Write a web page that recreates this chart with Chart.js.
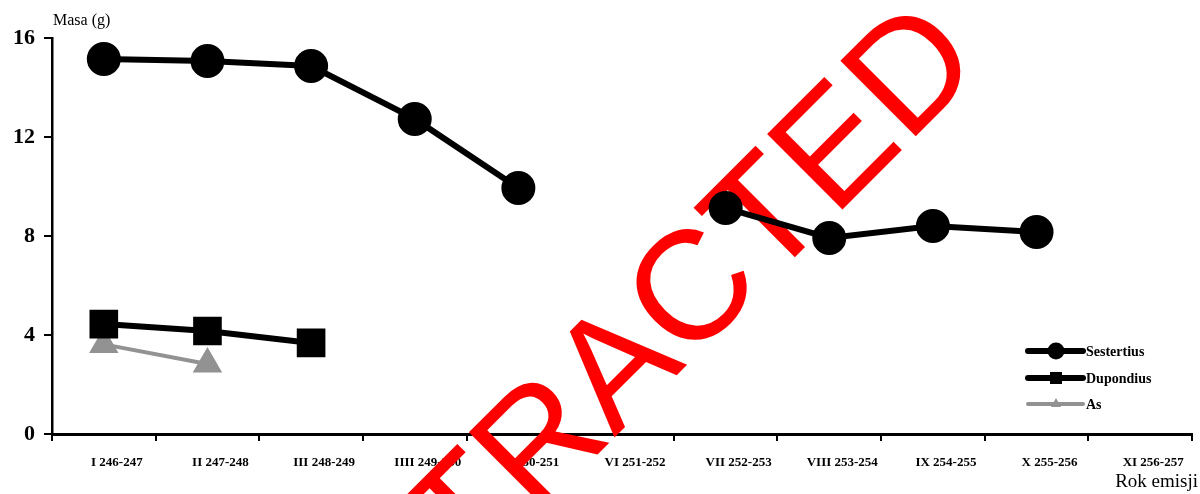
<!DOCTYPE html>
<html>
<head>
<meta charset="utf-8">
<script src="https://cdn.jsdelivr.net/npm/chart.js@4.4.1/dist/chart.umd.min.js"></script>
<style>
    html, body { margin: 0; padding: 0; background: #fff; }
    #chartContainer { width: 1200px; height: 494px; position: relative; }
</style>
</head>
<body>
<div id="chartContainer"><canvas id="Graph"></canvas></div>
<script>
// Emission periods (x axis)
const emissions = ['I 246-247', 'II 247-248', 'III 248-249', 'IIII 249-250', 'V 250-251', 'VI 251-252',
    'VII 252-253', 'VIII 253-254', 'IX 254-255', 'X 255-256', 'XI 256-257'];

// Mean coin mass (g)
const sestertius = [15.15, 15.07, 14.87, 12.73, 9.94, null, 9.13, 7.92, 8.40, 8.16, null];
const dupondius = [4.44, 4.16, 3.68, null, null, null, null, null, null, null, null];
const asCoin = [3.62, 2.83, null, null, null, null, null, null, null, null, null];

const yTicks = [0, 4, 8, 12, 16];

const serif = "'Liberation Serif', 'Times New Roman', serif";
const gray = '#929292';

// Draws the little legend box on the right, from the datasets themselves
const legendPlugin = {
    id: 'sideLegend',
    afterDatasetsDraw(chart) {
        const ctx = chart.ctx;
        const rows = [351, 378, 404];
        const x0 = 1028, x1 = 1083, xm = 1056;
        chart.data.datasets.forEach((ds, i) => {
            const y = rows[i];
            ctx.save();
            ctx.strokeStyle = ds.borderColor;
            ctx.lineWidth = ds.legendLine;
            ctx.lineCap = 'round';
            ctx.beginPath();
            ctx.moveTo(x0, y);
            ctx.lineTo(x1, y);
            ctx.stroke();
            ctx.fillStyle = ds.pointBackgroundColor;
            ctx.beginPath();
            if (ds.pointStyle === 'circle') {
                ctx.arc(xm, y, 8.5, 0, Math.PI * 2);
            } else if (ds.pointStyle === 'rect') {
                ctx.rect(xm - 6, y - 6, 12, 12);
            } else {
                ctx.moveTo(xm, y - 6);
                ctx.lineTo(xm + 5, y + 3);
                ctx.lineTo(xm - 5, y + 3);
                ctx.closePath();
            }
            ctx.fill();
            ctx.fillStyle = '#000';
            ctx.font = 'bold 14px ' + serif;
            ctx.textBaseline = 'middle';
            ctx.textAlign = 'left';
            ctx.fillText(ds.label, 1086, y + 1);
            ctx.restore();
        });
    }
};

// Axis captions placed like in the original figure
const captionPlugin = {
    id: 'captions',
    afterDraw(chart) {
        const ctx = chart.ctx;
        ctx.save();
        ctx.fillStyle = '#000';
        ctx.textBaseline = 'alphabetic';
        ctx.font = '16px ' + serif;
        ctx.textAlign = 'left';
        ctx.fillText('Masa (g)', 53, 25);
        ctx.font = '19px ' + serif;
        ctx.textAlign = 'right';
        ctx.fillText('Rok emisji', 1198, 487);
        ctx.restore();
    }
};

// Red stamp across the figure
const stampPlugin = {
    id: 'stamp',
    beforeDatasetsDraw(chart) {
        const ctx = chart.ctx;
        ctx.save();
        ctx.translate(316, 736);
        ctx.rotate(-Math.PI / 4);
        ctx.fillStyle = '#ff0000';
        ctx.font = "155px 'Liberation Sans', Arial, sans-serif";
        ctx.textAlign = 'left';
        ctx.textBaseline = 'alphabetic';
        ctx.fillText('RETRACTED', 0, 0);
        ctx.restore();
    }
};

const ctx = document.getElementById('Graph').getContext('2d');
const chartInstance = new Chart(ctx, {
    type: 'line',
    data: {
        labels: emissions,
        datasets: [
            {
                label: 'Sestertius',
                data: sestertius,
                borderColor: '#000',
                backgroundColor: '#000',
                pointBackgroundColor: '#000',
                pointBorderColor: '#000',
                pointStyle: 'circle',
                pointRadius: 14,
                borderWidth: 6,
                legendLine: 6,
                spanGaps: false,
                tension: 0
            },
            {
                label: 'Dupondius',
                data: dupondius,
                borderColor: '#000',
                backgroundColor: '#000',
                pointBackgroundColor: '#000',
                pointBorderColor: '#000',
                pointStyle: 'rect',
                pointRadius: 16,
                borderWidth: 6,
                legendLine: 6,
                tension: 0
            },
            {
                label: 'As',
                data: asCoin,
                borderColor: gray,
                backgroundColor: gray,
                pointBackgroundColor: gray,
                pointBorderColor: gray,
                pointStyle: 'triangle',
                pointRadius: 13,
                borderWidth: 4,
                legendLine: 4,
                tension: 0
            }
        ]
    },
    options: {
        responsive: true,
        maintainAspectRatio: false,
        animation: false,
        layout: { autoPadding: false, padding: { top: 38, right: 8, left: 0, bottom: 0 } },
        plugins: {
            legend: { display: false },
            tooltip: { enabled: false }
        },
        scales: {
            x: {
                offset: true,
                afterFit: (scale) => {
                    scale.height = 60;
                    scale.paddingLeft = 0;
                    scale.paddingRight = 0;
                },
                border: { display: true, color: '#000', width: 3 },
                grid: {
                    offset: true,
                    drawOnChartArea: false,
                    drawTicks: true,
                    tickLength: 7,
                    color: '#000',
                    lineWidth: 2
                },
                ticks: {
                    color: '#000',
                    padding: 14,
                    labelOffset: 13,
                    maxRotation: 0,
                    autoSkip: false,
                    font: { family: serif, size: 13, weight: 'bold' }
                }
            },
            y: {
                min: 0,
                max: 16,
                afterFit: (scale) => { scale.width = 52; },
                afterBuildTicks: (scale) => { scale.ticks = yTicks.map(v => ({ value: v })); },
                border: { display: true, color: '#000', width: 2.5 },
                grid: {
                    drawOnChartArea: false,
                    drawTicks: true,
                    tickLength: 8,
                    color: '#000',
                    lineWidth: 2
                },
                ticks: {
                    color: '#000',
                    padding: 9,
                    font: { family: serif, size: 22, weight: 'bold' }
                }
            }
        }
    },
    plugins: [stampPlugin, legendPlugin, captionPlugin]
});
</script>
</body>
</html>
